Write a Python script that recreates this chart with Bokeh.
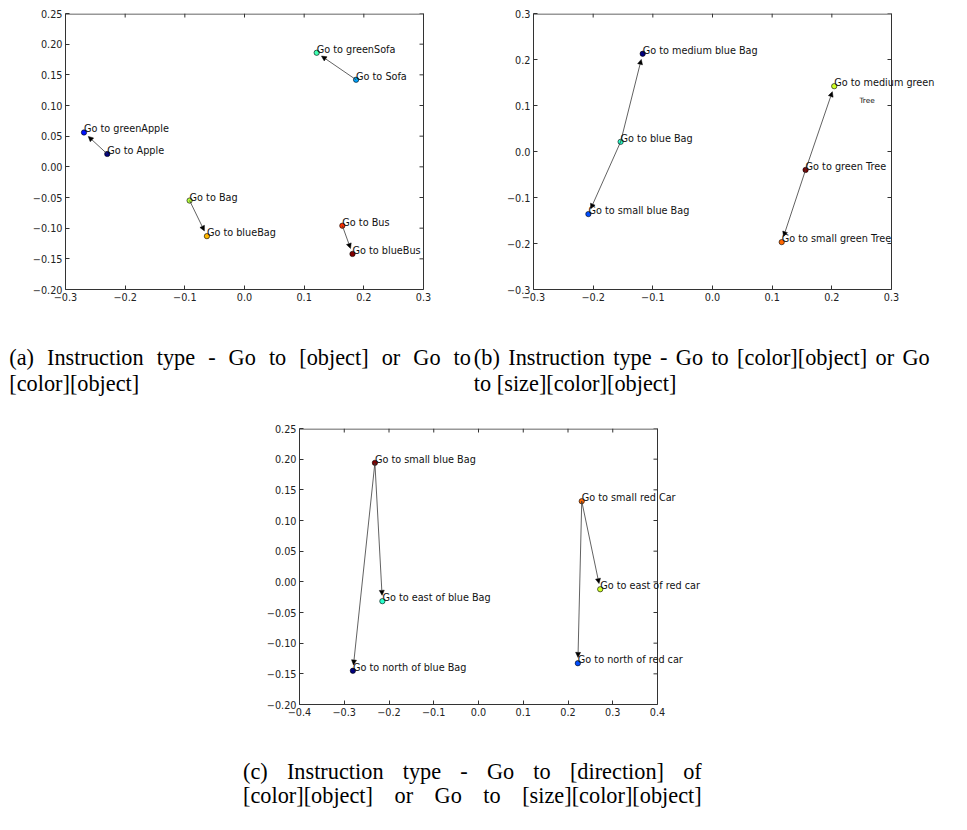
import math
from bokeh.plotting import figure
from bokeh.models import (ColumnDataSource, LabelSet, Label, Arrow, NormalHead,
                          FixedTicker, Range1d)
from bokeh.layouts import column, row
from bokeh.core.properties import value
from bokeh.embed import file_html
from bokeh.resources import INLINE

# ---------------- data ----------------
# (a)
labels_a = ["Go to Apple", "Go to greenApple", "Go to Sofa", "Go to greenSofa",
            "Go to Bag", "Go to blueBag", "Go to Bus", "Go to blueBus"]
x_a = [-0.230, -0.269, 0.187, 0.121, -0.092, -0.063, 0.164, 0.181]
y_a = [0.021, 0.056, 0.142, 0.186, -0.055, -0.113, -0.096, -0.142]
colors_a = ["#000080", "#0012ff", "#00a4ff", "#41ffb6",
            "#b6ff41", "#ffb900", "#ff3200", "#800000"]
arrows_a = [(0, 1), (2, 3), (4, 5), (6, 7)]

# (b)
labels_b = ["Go to medium blue Bag", "Go to small blue Bag", "Go to blue Bag",
            "Go to medium green", "Go to small green Tree", "Go to green Tree"]
x_b = [-0.117, -0.208, -0.154, 0.204, 0.116, 0.156]
y_b = [0.2125, -0.136, 0.021, 0.142, -0.197, -0.040]
colors_b = ["#000080", "#004cff", "#29ffce", "#ceff29", "#ff6800", "#800000"]
arrows_b = [(2, 0), (2, 1), (5, 3), (5, 4)]
extra_b = "Tree"

# (c)
labels_c = ["Go to small blue Bag", "Go to east of blue Bag", "Go to north of blue Bag",
            "Go to small red Car", "Go to east of red car", "Go to north of red car"]
x_c = [-0.2315, -0.2148, -0.2807, 0.2307, 0.272, 0.222]
y_c = [0.194, -0.0315, -0.145, 0.1315, -0.0121, -0.1327]
colors_c = ["#800000", "#29ffce", "#000080", "#ff6800", "#ceff29", "#004cff"]
arrows_c = [(0, 1), (0, 2), (3, 4), (3, 5)]

# ticks
xticks_ab = [-0.3, -0.2, -0.1, 0.0, 0.1, 0.2, 0.3]
xlabels_ab = ["\u22120.3", "\u22120.2", "\u22120.1", "0.0", "0.1", "0.2", "0.3"]
yticks_a = [-0.20, -0.15, -0.10, -0.05, 0.0, 0.05, 0.10, 0.15, 0.20, 0.25]
ylabels_a = ["\u22120.20", "\u22120.15", "\u22120.10", "\u22120.05", "0.00",
             "0.05", "0.10", "0.15", "0.20", "0.25"]
yticks_b = [-0.3, -0.2, -0.1, 0.0, 0.1, 0.2, 0.3]
ylabels_b = ["\u22120.3", "\u22120.2", "\u22120.1", "0.0", "0.1", "0.2", "0.3"]
xticks_c = [-0.4, -0.3, -0.2, -0.1, 0.0, 0.1, 0.2, 0.3, 0.4]
xlabels_c = ["\u22120.4", "\u22120.3", "\u22120.2", "\u22120.1", "0.0",
             "0.1", "0.2", "0.3", "0.4"]
yticks_c = yticks_a
ylabels_c = ylabels_a

# captions
caption_a = ["(a) Instruction type - Go to [object] or Go to", "[color][object]"]
caption_b = ["(b) Instruction type - Go to [color][object] or Go", "to [size][color][object]"]
caption_c = ["(c) Instruction type - Go to [direction] of",
             "[color][object] or Go to [size][color][object]"]

# ---------------- layout / style ----------------
S = 0.97                      # whole page scaled so that it fits the window


def R(v):
    return int(round(v * S))


FRAME_W, FRAME_H = R(369), R(285)
CAP_SIZE = 23                 # in reference pixels
TICK_FONT = "DejaVu Sans"
FRAME_COLOR = "#333333"
FS = f"{10 * S:.1f}px"

TIMES_W = {' ': 250, '(': 333, ')': 333, '[': 333, ']': 333, '-': 333,
           'a': 444, 'b': 500, 'c': 444, 'd': 500, 'e': 444, 'f': 333, 'g': 500,
           'h': 500, 'i': 278, 'j': 278, 'k': 500, 'l': 278, 'm': 778, 'n': 500,
           'o': 500, 'p': 500, 'q': 500, 'r': 333, 's': 389, 't': 278, 'u': 500,
           'v': 500, 'w': 722, 'x': 500, 'y': 500, 'z': 444, 'I': 333, 'G': 722}


def text_width(s, size):
    return sum(TIMES_W.get(ch, 500) for ch in s) * size / 1000.0


def style_axis(ax, ticks, labels, bounds=None):
    ax.ticker = FixedTicker(ticks=ticks)
    ax.major_label_overrides = dict(zip(ticks, labels))
    ax.axis_line_color = FRAME_COLOR
    ax.axis_line_width = 1
    if bounds is not None:
        ax.bounds = bounds
    ax.major_tick_in = 4
    ax.major_tick_out = 0
    ax.minor_tick_in = 0
    ax.minor_tick_out = 0
    ax.major_tick_line_color = FRAME_COLOR
    ax.major_tick_line_width = 1
    ax.major_label_text_font = TICK_FONT
    ax.major_label_text_font_size = FS
    ax.major_label_text_color = "#222222"
    ax.major_label_standoff = 3


def make_plot(width, height, bl, bt, ext, xr, yr, xt, xl, yt, yl,
              xs, ys, labels, colors, arrows):
    # ext: extra room (px) right of the box so that the point labels are not cut
    sx = FRAME_W / (xr[1] - xr[0])
    sy = FRAME_H / (yr[1] - yr[0])
    br = width - bl - FRAME_W - ext
    bb = height - bt - FRAME_H
    p = figure(width=width, height=height, title=None,
               x_range=Range1d(xr[0], xr[1] + ext / sx), y_range=Range1d(*yr),
               output_backend="svg", toolbar_location=None,
               min_border_left=bl, min_border_right=br,
               min_border_top=bt, min_border_bottom=bb)
    p.grid.visible = False
    p.outline_line_color = None
    style_axis(p.xaxis[0], xt, xl, bounds=(xr[0], xr[1]))
    style_axis(p.yaxis[0], yt, yl)

    # top and right sides of the box, with inward ticks
    iy = 0.5 / sy
    p.segment(x0=[xr[0]], y0=[yr[1] - iy], x1=[xr[1]], y1=[yr[1] - iy],
              line_color=FRAME_COLOR, line_width=1)
    p.segment(x0=[xr[1]], y0=[yr[0]], x1=[xr[1]], y1=[yr[1]],
              line_color=FRAME_COLOR, line_width=1)
    p.segment(x0=xt, y0=[yr[1]] * len(xt), x1=xt, y1=[yr[1] - 4 / sy] * len(xt),
              line_color=FRAME_COLOR, line_width=1)
    p.segment(x0=[xr[1]] * len(yt), y0=yt, x1=[xr[1] - 4 / sx] * len(yt), y1=yt,
              line_color=FRAME_COLOR, line_width=1)

    xs0, ys0, xe, ye = [], [], [], []
    for i, j in arrows:
        dx = (xs[j] - xs[i]) * sx
        dy = (ys[j] - ys[i]) * sy
        L = math.hypot(dx, dy)
        f = (L - 6.0 * S) / L
        xs0.append(xs[i]); ys0.append(ys[i])
        xe.append(xs[i] + (xs[j] - xs[i]) * f)
        ye.append(ys[i] + (ys[j] - ys[i]) * f)
    asrc = ColumnDataSource(dict(xs=xs0, ys=ys0, xe=xe, ye=ye))
    p.add_layout(Arrow(end=NormalHead(size=5, fill_color="black", line_color="black",
                                      line_width=0.5),
                       x_start="xs", y_start="ys", x_end="xe", y_end="ye",
                       source=asrc, line_color="#3a3a3a", line_width=0.8))

    src = ColumnDataSource(dict(x=xs, y=ys, label=labels, color=colors))
    p.scatter("x", "y", source=src, size=5.5 * S, fill_color="color",
              line_color="black", line_width=0.6)
    p.add_layout(LabelSet(x="x", y="y", text="label", source=src,
                          text_font=value(TICK_FONT), text_font_size=value(FS),
                          text_color="#111111", text_baseline="alphabetic",
                          text_align="left"))
    return p


def caption_fig(width, height, top, lines):
    # lines: (text, left, right, baseline, justify) in reference pixels
    p = figure(width=width, height=height, title=None, x_range=Range1d(0, width),
               y_range=Range1d(height, 0), output_backend="svg",
               toolbar_location=None, min_border=0,
               x_axis_location=None, y_axis_location=None)
    p.grid.visible = False
    p.outline_line_color = None
    tx, ty, tw = [], [], []
    for text, x_left, x_right, baseline, justify in lines:
        words = text.split(" ")
        widths = [text_width(w, CAP_SIZE) for w in words]
        if justify and len(words) > 1:
            gap = (x_right - x_left - sum(widths)) / (len(words) - 1)
        else:
            gap = text_width(" ", CAP_SIZE)
        x = x_left
        for w, wd in zip(words, widths):
            tx.append(x * S)
            ty.append(baseline * S - top)
            tw.append(w)
            x += wd + gap
    p.text(x=tx, y=ty, text=tw, text_font=value("Liberation Serif"),
           text_font_size=value(f"{CAP_SIZE * S:.1f}px"), text_color="black",
           text_baseline="alphabetic", text_align="left")
    return p


PAGE_W, PAGE_H = 951, 814
ROW1_H = R(318)
A_W = R(486)
B_W = R(965) - A_W
CAPAB_H = R(408) - ROW1_H
C_TOP = R(408)
C_H = R(745) - C_TOP
CAPC_H = PAGE_H - R(745)

pa = make_plot(A_W, ROW1_H, R(67), R(13), R(10), (-0.3, 0.3), (-0.20, 0.25),
               xticks_ab, xlabels_ab, yticks_a, ylabels_a,
               x_a, y_a, labels_a, colors_a, arrows_a)
b_left = R(549) - A_W
pb = make_plot(B_W, ROW1_H, b_left, R(13), B_W - b_left - FRAME_W, (-0.3, 0.3), (-0.3, 0.3),
               xticks_ab, xlabels_ab, yticks_b, ylabels_b,
               x_b, y_b, labels_b, colors_b, arrows_b)
pb.add_layout(Label(x=x_b[3], y=y_b[3], text=extra_b, x_offset=26 * S, y_offset=-15 * S,
                    text_font=TICK_FONT, text_font_size=f"{7.5 * S:.1f}px",
                    text_color="#111111", text_baseline="alphabetic"))
c_left = R(308)
pc = make_plot(PAGE_W, C_H, c_left, R(441) - C_TOP, R(745) - c_left - FRAME_W,
               (-0.4, 0.4), (-0.20, 0.25), xticks_c, xlabels_c, yticks_c, ylabels_c,
               x_c, y_c, labels_c, colors_c, arrows_c)

cap_ab = caption_fig(PAGE_W, CAPAB_H, ROW1_H, [
    (caption_a[0], 9, 485, 368, True),
    (caption_a[1], 9, 485, 394.6, False),
    (caption_b[0], 488, 958, 368, True),
    (caption_b[1], 488, 958, 394.6, False),
])
cap_c = caption_fig(PAGE_W, CAPC_H, R(745), [
    (caption_c[0], 250, 723, 795, True),
    (caption_c[1], 250, 723, 820, True),
])

layout = column(row(pa, pb), cap_ab, row(pc), cap_c)
open("out.html", "w").write(file_html(layout, INLINE))
